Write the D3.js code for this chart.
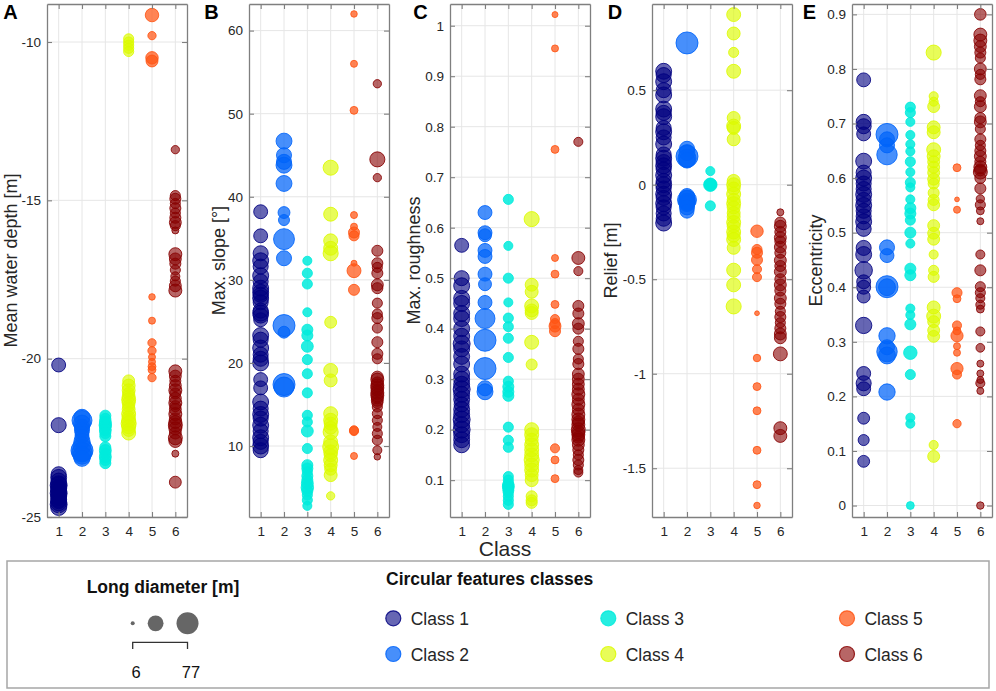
<!DOCTYPE html>
<html><head><meta charset="utf-8">
<script src="https://cdn.jsdelivr.net/npm/d3@7"></script>
<style>
body{margin:0;background:#fff;}
svg{display:block;font-family:"Liberation Sans",Arial,Helvetica,sans-serif;}
</style></head><body>
<svg id="chart" width="996" height="691"></svg>
<script>
// ---------------- DATA ----------------
const classes = [1, 2, 3, 4, 5, 6];
const classNames = ["Class 1", "Class 2", "Class 3", "Class 4", "Class 5", "Class 6"];
const sizeLegendValues = [6, 41.5, 77];
const sizeLegendLabels = ["6", "77"];

const depthTicks = [-25, -20, -15, -10];
const slopeTicks = [10, 20, 30, 40, 50, 60];
const roughTicks = [0.1, 0.2, 0.3, 0.4, 0.5, 0.6, 0.7, 0.8, 0.9, 1];
const reliefTicks = [-1.5, -1, -0.5, 0, 0.5];
const eccTicks = [0, 0.1, 0.2, 0.3, 0.4, 0.5, 0.6, 0.7, 0.8, 0.9];

const depthDomain = [-25, -8.8];
const slopeDomain = [1.46, 63.2];
const roughDomain = [0.027, 1.043];
const reliefDomain = [-1.758, 0.956];
const eccDomain = [-0.021, 0.919];

// [class, value, long diameter (m)]
const depthData = [
[1,-20.2,33],[1,-22.1,38],[1,-23.65,38],[1,-23.75,42],[1,-23.85,38],[1,-23.95,42],[1,-24.0,47],[1,-24.05,38],[1,-24.1,42],[1,-24.15,38],[1,-24.2,42],[1,-24.25,47],[1,-24.3,38],[1,-24.35,42],[1,-24.4,38],[1,-24.45,42],[1,-24.5,38],[1,-24.55,42],[1,-24.6,47],[1,-24.7,42],
[2,-21.85,42],[2,-21.95,64],[2,-22.05,47],[2,-22.15,38],[2,-22.25,38],[2,-22.35,33],[2,-22.45,33],[2,-22.6,42],[2,-22.75,53],[2,-22.9,77],[2,-22.95,64],[2,-23.05,53],[2,-23.15,42],
[3,-21.8,22],[3,-21.9,22],[3,-22.0,25],[3,-22.1,27],[3,-22.15,22],[3,-22.25,25],[3,-22.35,22],[3,-22.45,22],[3,-22.8,22],[3,-22.9,25],[3,-23.0,22],[3,-23.1,25],[3,-23.2,22],[3,-23.3,22],
[4,-9.9,19],[4,-10.0,19],[4,-10.1,19],[4,-10.2,19],[4,-10.3,19],[4,-20.7,25],[4,-20.85,29],[4,-21.0,29],[4,-21.1,25],[4,-21.2,29],[4,-21.3,33],[4,-21.4,29],[4,-21.5,25],[4,-21.6,29],[4,-21.75,33],[4,-21.85,29],[4,-21.95,33],[4,-22.05,38],[4,-22.15,33],[4,-22.25,29],[4,-22.35,33],
[5,-9.15,31],[5,-9.8,14],[5,-10.5,27],[5,-10.6,25],[5,-18.05,10],[5,-18.8,11],[5,-19.5,14],[5,-19.75,14],[5,-19.95,11],[5,-20.1,11],[5,-20.25,13],[5,-20.35,13],[5,-20.6,14],
[6,-13.4,14],[6,-14.85,19],[6,-14.95,22],[6,-15.1,19],[6,-15.25,22],[6,-15.4,19],[6,-15.55,22],[6,-15.7,25],[6,-15.8,19],[6,-15.95,11],[6,-16.7,29],[6,-16.85,25],[6,-17.0,22],[6,-17.2,19],[6,-17.4,16],[6,-17.55,19],[6,-17.7,25],[6,-17.85,29],[6,-20.4,29],[6,-20.55,25],[6,-20.7,22],[6,-20.85,25],[6,-21.0,29],[6,-21.1,22],[6,-21.25,25],[6,-21.4,29],[6,-21.5,22],[6,-21.6,25],[6,-21.75,29],[6,-21.9,25],[6,-22.0,29],[6,-22.1,33],[6,-22.2,29],[6,-22.35,25],[6,-22.5,33],[6,-22.6,29],[6,-23.0,11],[6,-23.9,25]
];

const slopeData = [
[1,38.2,33],[1,35.3,33],[1,33.2,38],[1,32.3,42],[1,31.6,38],[1,30.5,42],[1,29.8,38],[1,29.0,42],[1,28.5,42],[1,28.2,38],[1,27.8,42],[1,27.3,38],[1,26.3,38],[1,26.0,42],[1,25.7,38],[1,25.2,33],[1,23.3,42],[1,22.8,38],[1,21.8,42],[1,21.0,38],[1,20.5,38],[1,20.0,42],[1,18.0,33],[1,17.0,33],[1,15.3,42],[1,14.5,38],[1,13.8,42],[1,13.3,38],[1,12.5,42],[1,11.8,38],[1,11.0,42],[1,10.5,38],[1,10.0,42],[1,9.5,38],
[2,46.7,42],[2,45.0,38],[2,44.2,38],[2,43.8,42],[2,41.6,42],[2,38.1,25],[2,37.2,22],[2,34.9,70],[2,32.6,38],[2,24.5,77],[2,23.7,25],[2,17.4,77],[2,17.1,64],
[3,32.3,16],[3,30.8,19],[3,29.5,19],[3,26.1,16],[3,24.0,22],[3,23.3,22],[3,22.0,25],[3,20.4,19],[3,18.7,19],[3,16.4,19],[3,13.7,19],[3,12.9,19],[3,11.8,25],[3,9.7,19],[3,7.7,22],[3,7.3,22],[3,6.9,19],[3,6.4,22],[3,5.9,22],[3,5.5,25],[3,5.0,27],[3,4.6,22],[3,4.1,19],[3,3.5,19],[3,2.8,16],
[4,43.5,38],[4,37.9,33],[4,34.7,33],[4,33.8,33],[4,33.2,38],[4,24.9,25],[4,19.1,33],[4,17.9,29],[4,13.9,33],[4,13.1,33],[4,12.7,29],[4,12.2,29],[4,11.7,38],[4,10.5,33],[4,9.9,42],[4,9.3,33],[4,8.9,29],[4,8.3,33],[4,7.7,29],[4,7.2,25],[4,6.5,29],[4,4.0,14],
[5,62.0,10],[5,56.0,11],[5,50.4,13],[5,37.8,11],[5,36.4,11],[5,35.7,22],[5,35.3,19],[5,32.0,9],[5,31.1,33],[5,28.8,22],[5,11.9,16],[5,11.8,16],[5,8.8,11],
[6,53.6,14],[6,44.5,38],[6,42.3,14],[6,33.5,22],[6,32.0,22],[6,31.5,19],[6,30.8,22],[6,29.4,25],[6,29.0,22],[6,27.2,19],[6,25.9,19],[6,25.4,22],[6,24.2,19],[6,22.5,22],[6,21.1,22],[6,20.5,19],[6,18.3,25],[6,18.0,29],[6,17.6,25],[6,17.3,29],[6,17.0,29],[6,16.7,25],[6,16.4,29],[6,16.1,29],[6,15.8,25],[6,15.5,25],[6,15.2,22],[6,14.7,19],[6,13.9,19],[6,13.1,19],[6,12.3,16],[6,11.5,19],[6,10.7,19],[6,9.5,16],[6,8.7,10]
];

const roughData = [
[1,0.565,33],[1,0.50,38],[1,0.485,42],[1,0.46,42],[1,0.45,42],[1,0.43,42],[1,0.42,42],[1,0.40,42],[1,0.385,42],[1,0.37,47],[1,0.36,42],[1,0.345,42],[1,0.33,42],[1,0.31,42],[1,0.30,42],[1,0.29,42],[1,0.28,47],[1,0.27,42],[1,0.26,42],[1,0.25,38],[1,0.24,42],[1,0.23,42],[1,0.22,47],[1,0.21,42],[1,0.20,47],[1,0.19,42],[1,0.18,42],[1,0.17,42],
[2,0.63,33],[2,0.59,33],[2,0.585,29],[2,0.555,33],[2,0.543,33],[2,0.508,33],[2,0.488,29],[2,0.452,33],[2,0.42,64],[2,0.377,77],[2,0.321,77],[2,0.282,38],[2,0.275,42],
[3,0.656,19],[3,0.564,16],[3,0.50,19],[3,0.452,16],[3,0.421,19],[3,0.404,19],[3,0.381,19],[3,0.343,19],[3,0.296,19],[3,0.285,22],[3,0.275,22],[3,0.267,22],[3,0.205,19],[3,0.179,19],[3,0.165,19],[3,0.107,19],[3,0.10,19],[3,0.092,22],[3,0.088,25],[3,0.085,22],[3,0.08,22],[3,0.075,19],[3,0.068,19],[3,0.06,19],[3,0.052,19],
[4,0.617,38],[4,0.487,29],[4,0.473,29],[4,0.445,33],[4,0.436,29],[4,0.431,29],[4,0.373,33],[4,0.329,22],[4,0.20,33],[4,0.19,33],[4,0.18,29],[4,0.17,33],[4,0.16,33],[4,0.15,33],[4,0.14,38],[4,0.13,33],[4,0.12,33],[4,0.11,29],[4,0.10,29],[4,0.068,22],[4,0.06,22],[4,0.055,22],
[5,1.022,9],[5,0.955,11],[5,0.755,13],[5,0.54,11],[5,0.508,13],[5,0.448,13],[5,0.419,16],[5,0.41,19],[5,0.405,25],[5,0.395,22],[5,0.163,16],[5,0.14,13],[5,0.103,13],
[6,0.77,16],[6,0.54,29],[6,0.514,16],[6,0.445,22],[6,0.43,22],[6,0.41,25],[6,0.40,22],[6,0.375,19],[6,0.36,22],[6,0.34,19],[6,0.33,22],[6,0.31,25],[6,0.30,25],[6,0.29,25],[6,0.28,25],[6,0.27,29],[6,0.26,25],[6,0.25,29],[6,0.24,25],[6,0.23,29],[6,0.22,29],[6,0.215,25],[6,0.21,29],[6,0.20,33],[6,0.195,29],[6,0.19,29],[6,0.185,25],[6,0.18,29],[6,0.17,25],[6,0.16,22],[6,0.15,19],[6,0.14,22],[6,0.13,19],[6,0.12,16],[6,0.115,16]
];

const reliefData = [
[1,0.60,42],[1,0.58,38],[1,0.545,42],[1,0.50,38],[1,0.475,42],[1,0.40,42],[1,0.38,38],[1,0.36,42],[1,0.30,38],[1,0.28,42],[1,0.25,38],[1,0.215,42],[1,0.16,38],[1,0.14,42],[1,0.12,38],[1,0.10,42],[1,0.08,38],[1,0.05,42],[1,0.02,38],[1,0.0,42],[1,-0.02,38],[1,-0.05,42],[1,-0.07,38],[1,-0.10,42],[1,-0.12,38],[1,-0.152,38],[1,-0.18,38],[1,-0.203,42],
[2,0.75,77],[2,0.19,38],[2,0.17,42],[2,0.15,77],[2,0.14,53],[2,0.13,42],[2,-0.06,38],[2,-0.07,42],[2,-0.08,58],[2,-0.09,47],[2,-0.10,42],[2,-0.12,38],[2,-0.14,33],
[3,0.072,16],[3,0.0,31],[3,0.0,25],[3,0.0,22],[3,0.0,19],[3,0.0,22],[3,0.0,25],[3,-0.112,19],
[4,0.90,33],[4,0.80,29],[4,0.70,19],[4,0.60,33],[4,0.353,29],[4,0.31,33],[4,0.30,29],[4,0.24,29],[4,0.02,29],[4,0.0,33],[4,-0.02,29],[4,-0.05,33],[4,-0.08,29],[4,-0.10,33],[4,-0.12,29],[4,-0.15,29],[4,-0.17,29],[4,-0.20,33],[4,-0.22,29],[4,-0.25,33],[4,-0.27,29],[4,-0.29,33],[4,-0.334,29],[4,-0.452,33],[4,-0.53,33],[4,-0.644,38],
[5,-0.246,27],[5,-0.343,19],[5,-0.36,22],[5,-0.398,22],[5,-0.447,16],[5,-0.489,16],[5,-0.68,7],[5,-0.917,12],[5,-1.068,13],[5,-1.196,13],[5,-1.405,13],[5,-1.587,13],[5,-1.697,10],
[6,-0.146,11],[6,-0.20,22],[6,-0.22,25],[6,-0.25,22],[6,-0.28,25],[6,-0.30,22],[6,-0.33,25],[6,-0.36,22],[6,-0.40,25],[6,-0.43,22],[6,-0.46,25],[6,-0.50,22],[6,-0.53,25],[6,-0.56,22],[6,-0.60,25],[6,-0.63,22],[6,-0.67,19],[6,-0.70,22],[6,-0.73,19],[6,-0.76,22],[6,-0.79,25],[6,-0.81,25],[6,-0.895,33],[6,-1.288,29],[6,-1.329,29]
];

const eccData = [
[1,0.78,33],[1,0.703,38],[1,0.695,38],[1,0.681,33],[1,0.631,42],[1,0.61,38],[1,0.60,42],[1,0.59,38],[1,0.58,38],[1,0.57,42],[1,0.56,38],[1,0.55,42],[1,0.54,38],[1,0.53,38],[1,0.52,42],[1,0.507,38],[1,0.472,38],[1,0.46,42],[1,0.431,50],[1,0.41,33],[1,0.40,33],[1,0.383,29],[1,0.33,44],[1,0.242,33],[1,0.224,38],[1,0.214,33],[1,0.16,25],[1,0.12,22],[1,0.081,25],
[2,0.68,77],[2,0.671,38],[2,0.66,38],[2,0.643,67],[2,0.473,38],[2,0.458,33],[2,0.401,77],[2,0.40,47],[2,0.311,44],[2,0.29,38],[2,0.282,67],[2,0.275,47],[2,0.208,44],
[3,0.73,19],[3,0.72,19],[3,0.703,16],[3,0.679,16],[3,0.662,16],[3,0.649,16],[3,0.63,19],[3,0.611,16],[3,0.592,19],[3,0.583,16],[3,0.561,16],[3,0.545,22],[3,0.535,22],[3,0.523,19],[3,0.50,22],[3,0.48,16],[3,0.434,22],[3,0.422,22],[3,0.361,16],[3,0.349,16],[3,0.332,22],[3,0.28,31],[3,0.24,19],[3,0.161,16],[3,0.15,16],[3,0.0,13],
[4,0.83,38],[4,0.75,16],[4,0.74,16],[4,0.731,25],[4,0.693,29],[4,0.684,29],[4,0.652,33],[4,0.64,29],[4,0.63,25],[4,0.62,25],[4,0.61,25],[4,0.598,25],[4,0.59,22],[4,0.573,22],[4,0.56,22],[4,0.551,25],[4,0.513,25],[4,0.499,25],[4,0.488,25],[4,0.46,16],[4,0.431,19],[4,0.419,22],[4,0.363,29],[4,0.347,33],[4,0.337,25],[4,0.321,25],[4,0.31,25],[4,0.111,16],[4,0.09,25],
[5,0.619,13],[5,0.561,7],[5,0.542,11],[5,0.39,19],[5,0.379,13],[5,0.33,16],[5,0.32,13],[5,0.311,26],[5,0.292,11],[5,0.28,11],[5,0.251,26],[5,0.24,16],[5,0.15,14],
[6,0.90,24],[6,0.863,29],[6,0.852,29],[6,0.841,25],[6,0.83,22],[6,0.82,19],[6,0.80,25],[6,0.79,19],[6,0.781,22],[6,0.751,25],[6,0.74,19],[6,0.731,25],[6,0.71,22],[6,0.703,25],[6,0.69,19],[6,0.671,22],[6,0.66,19],[6,0.65,22],[6,0.64,25],[6,0.63,22],[6,0.62,29],[6,0.615,25],[6,0.611,33],[6,0.60,22],[6,0.581,22],[6,0.562,14],[6,0.551,19],[6,0.54,13],[6,0.521,11],[6,0.46,16],[6,0.431,22],[6,0.401,19],[6,0.39,19],[6,0.38,16],[6,0.368,16],[6,0.36,13],[6,0.319,16],[6,0.289,15],[6,0.26,11],[6,0.242,11],[6,0.23,11],[6,0.224,16],[6,0.21,11],[6,0.0,12]
];

// ---------------- STYLE ----------------
const classColors = ["#000080", "#0064fa", "#00ebdc", "#dcfa00", "#ff5514", "#870000"];
const classAlpha = [0.6, 0.72, 0.85, 0.65, 0.72, 0.6];
const TEXT = "#262626";
const AXIS = "#7f7f7f";
const GRID = "#e6e6e6";

const svg = d3.select("#chart");
const TOP = 4, BOTTOM = 517, PW = 140;
const rScale = d3.scaleRadial().domain([6, 77]).range([2, 11]);

const panels = [
  {letter: "A", title: "Mean water depth [m]", data: depthData, domain: depthDomain, ticks: depthTicks, left: 47, letterX: 3.3, titleX: 10.5},
  {letter: "B", title: "Max. slope [°]", data: slopeData, domain: slopeDomain, ticks: slopeTicks, left: 249, letterX: 204.3, titleX: 219},
  {letter: "C", title: "Max. roughness", data: roughData, domain: roughDomain, ticks: roughTicks, left: 450, letterX: 413.3, titleX: 414},
  {letter: "D", title: "Relief [m]", data: reliefData, domain: reliefDomain, ticks: reliefTicks, left: 652, letterX: 607.7, titleX: 611},
  {letter: "E", title: "Eccentricity", data: eccData, domain: eccDomain, ticks: eccTicks, left: 852, letterX: 802.7, titleX: 816}
];

function styleAxis(g) {
  g.select(".domain").attr("stroke", AXIS).attr("stroke-width", 1.3);
  g.selectAll(".tick line").attr("stroke", AXIS).attr("stroke-width", 1.1);
  g.selectAll(".tick text").attr("fill", TEXT).style("font-size", "13.5px")
    .style("font-family", '"Liberation Sans", Arial, sans-serif');
}

panels.forEach(p => {
  const x = d3.scaleLinear().domain([0.5, 6.5]).range([p.left, p.left + PW]);
  const y = d3.scaleLinear().domain(p.domain).range([BOTTOM, TOP]);
  const g = svg.append("g");

  // grid
  g.append("g").selectAll("line").data(classes).join("line")
    .attr("x1", d => x(d)).attr("x2", d => x(d)).attr("y1", TOP).attr("y2", BOTTOM)
    .attr("stroke", GRID).attr("stroke-width", 1);
  g.append("g").selectAll("line").data(p.ticks).join("line")
    .attr("x1", p.left).attr("x2", p.left + PW).attr("y1", d => y(d)).attr("y2", d => y(d))
    .attr("stroke", GRID).attr("stroke-width", 1);

  // points
  g.append("g").selectAll("circle").data(p.data).join("circle")
    .attr("cx", d => x(d[0])).attr("cy", d => y(d[1])).attr("r", d => rScale(d[2]))
    .attr("fill", d => classColors[d[0] - 1])
    .attr("fill-opacity", d => classAlpha[d[0] - 1])
    .attr("stroke", d => classColors[d[0] - 1])
    .attr("stroke-opacity", 0.85)
    .attr("stroke-width", 1);

  // axes (box with inward ticks)
  g.append("g").attr("transform", `translate(${p.left},0)`)
    .call(d3.axisLeft(y).tickValues(p.ticks).tickSize(-5).tickSizeOuter(0).tickPadding(6).tickFormat(d => String(d)))
    .call(styleAxis);
  g.append("g").attr("transform", `translate(${p.left + PW},0)`)
    .call(d3.axisRight(y).tickValues(p.ticks).tickSize(-5).tickSizeOuter(0).tickFormat(""))
    .call(styleAxis);
  g.append("g").attr("transform", `translate(0,${BOTTOM})`)
    .call(d3.axisBottom(x).tickValues(classes).tickSize(-5).tickSizeOuter(0).tickPadding(9).tickFormat(d => String(d)))
    .call(styleAxis);
  g.append("g").attr("transform", `translate(0,${TOP})`)
    .call(d3.axisTop(x).tickValues(classes).tickSize(-5).tickSizeOuter(0).tickFormat(""))
    .call(styleAxis);

  // y title
  g.append("text")
    .attr("transform", `translate(${p.titleX},${(TOP + BOTTOM) / 2}) rotate(-90)`)
    .attr("text-anchor", "middle").attr("dominant-baseline", "central")
    .attr("fill", TEXT).style("font-size", "18px").text(p.title);

  // panel letter
  g.append("text").attr("x", p.letterX).attr("y", 18.5)
    .attr("fill", "#000").style("font-size", "20px").style("font-weight", "bold").text(p.letter);
});

// x label
svg.append("text").attr("x", 505).attr("y", 556).attr("text-anchor", "middle")
  .attr("fill", TEXT).style("font-size", "21px").text("Class");

// ---------------- LEGEND ----------------
const lg = svg.append("g");
lg.append("rect").attr("x", 7).attr("y", 561).attr("width", 982).attr("height", 127)
  .attr("fill", "#fff").attr("stroke", "#a6a6a6").attr("stroke-width", 1.5);

lg.append("text").attr("x", 163).attr("y", 592.5).attr("text-anchor", "middle")
  .attr("fill", "#111").style("font-size", "17.5px").style("font-weight", "bold").text("Long diameter [m]");

// size circles: placed with equal gaps between edges
const sizeX = [];
sizeLegendValues.forEach((v, i) => {
  if (i === 0) sizeX.push(132.7);
  else sizeX.push(sizeX[i - 1] + rScale(sizeLegendValues[i - 1]) + 13 + rScale(v));
});
lg.selectAll("circle.size").data(sizeLegendValues).join("circle").attr("class", "size")
  .attr("cx", (d, i) => sizeX[i]).attr("cy", 623.3).attr("r", d => rScale(d)).attr("fill", "#666");

const bx0 = sizeX[0], bx1 = sizeX[sizeX.length - 1];
lg.append("path").attr("d", `M${bx0},649V642.3H${bx1}V649`)
  .attr("fill", "none").attr("stroke", "#333").attr("stroke-width", 1.3);
lg.selectAll("text.sz").data(sizeLegendLabels).join("text").attr("class", "sz")
  .attr("x", (d, i) => (i === 0 ? bx0 : bx1) + 3.5).attr("y", 678).attr("text-anchor", "middle")
  .attr("fill", "#111").style("font-size", "16.5px").text(d => d);

lg.append("text").attr("x", 386).attr("y", 585)
  .attr("fill", "#111").style("font-size", "17.5px").style("font-weight", "bold").text("Circular features classes");

const colX = [393.3, 608.3, 847];
const rowY = [618.3, 654];
const entries = lg.selectAll("g.entry").data(classes).join("g").attr("class", "entry")
  .attr("transform", (d, i) => `translate(${colX[Math.floor(i / 2)]},${rowY[i % 2]})`);
entries.append("circle").attr("r", 7.5)
  .attr("fill", d => classColors[d - 1]).attr("fill-opacity", d => classAlpha[d - 1])
  .attr("stroke", d => classColors[d - 1]).attr("stroke-opacity", 0.85).attr("stroke-width", 1.2);
entries.append("text").attr("x", 17.4).attr("y", 7)
  .attr("fill", TEXT).style("font-size", "17.5px").text(d => classNames[d - 1]);
</script>
</body></html>
